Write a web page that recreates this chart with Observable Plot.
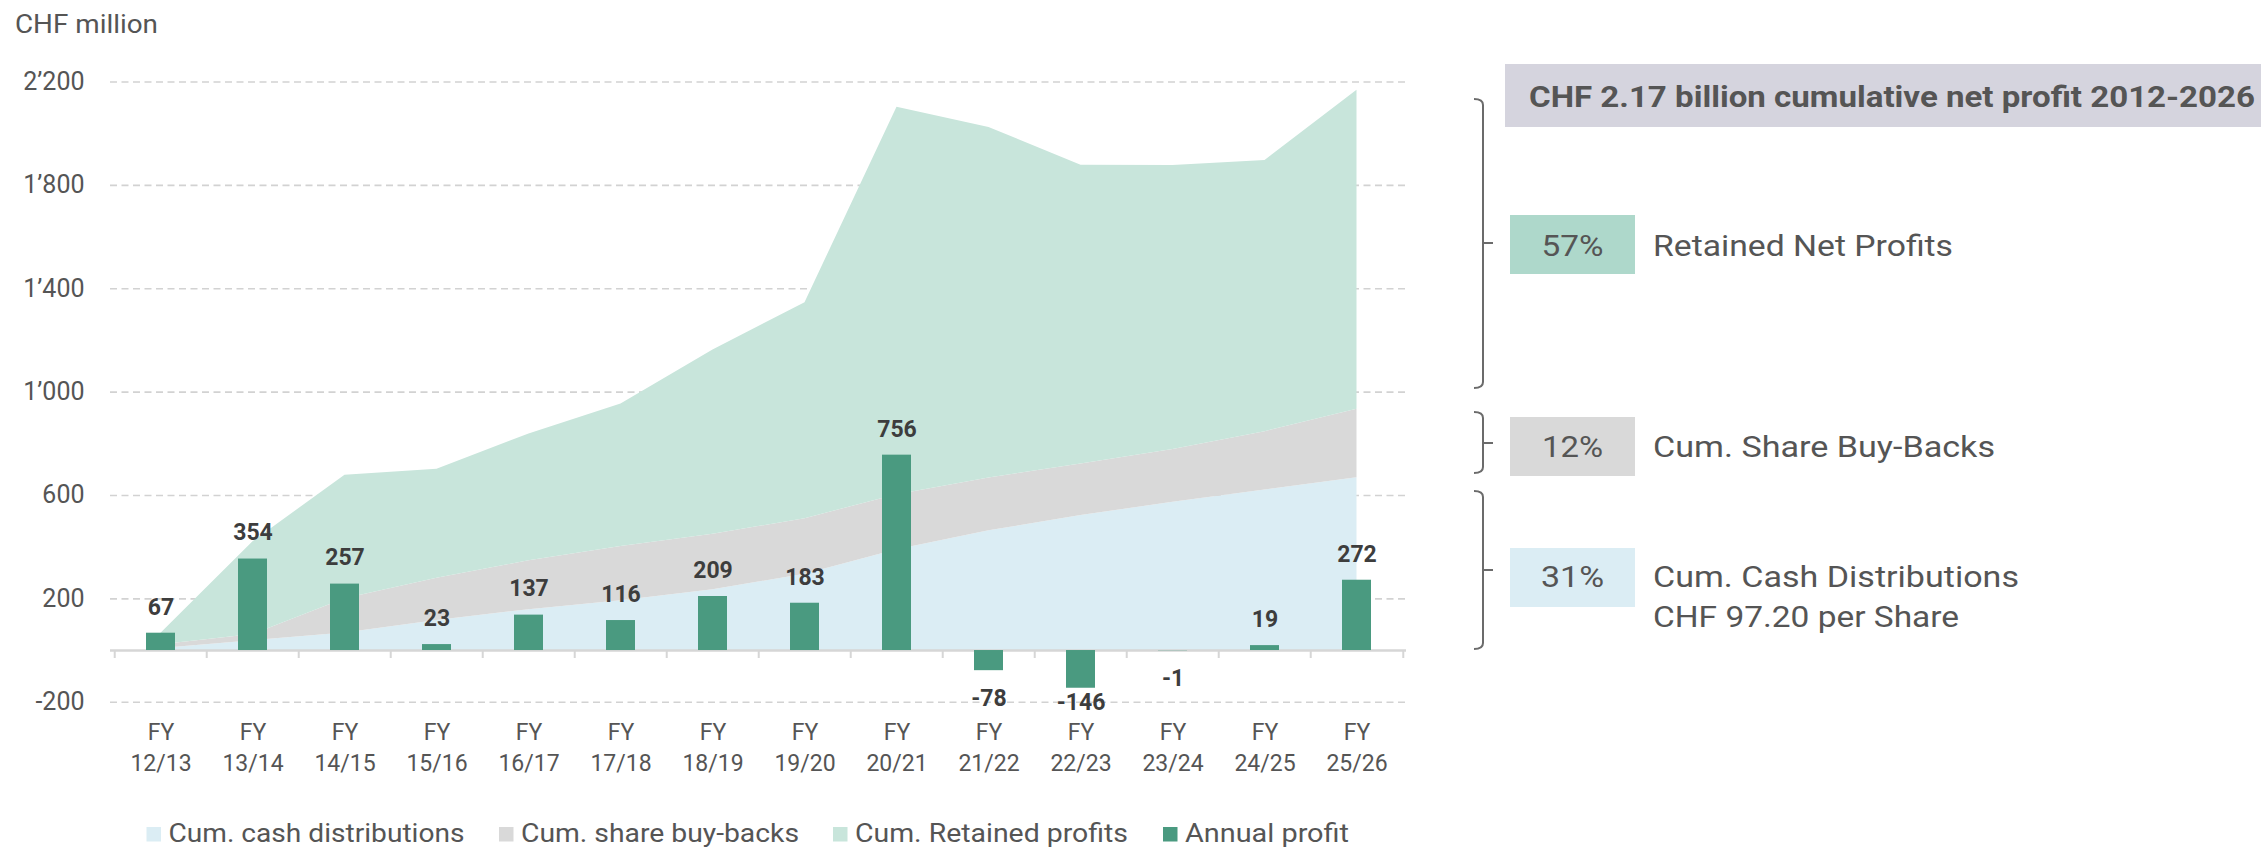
<!DOCTYPE html>
<html>
<head>
<meta charset="utf-8">
<script src="https://cdn.jsdelivr.net/npm/d3@7"></script>
<script src="https://cdn.jsdelivr.net/npm/@observablehq/plot@0.6"></script>
<style>
  html, body { margin: 0; padding: 0; background: #fff; }
  #chart { position: relative; width: 2261px; height: 847px; overflow: hidden; }
</style>
</head>
<body>
<div id="chart"></div>
<script>
// ---------- data ----------
const years = ["12/13","13/14","14/15","15/16","16/17","17/18","18/19","19/20","20/21","21/22","22/23","23/24","24/25","25/26"];
const annualProfit = [67, 354, 257, 23, 137, 116, 209, 183, 756, -78, -146, -1, 19, 272];
const cumCashDistributions = [8, 38, 68, 116, 158, 193, 235, 295, 390, 463, 522, 574, 621, 669];
const cumShareBuyBacks = [14, 24, 132, 164, 189, 210, 215, 215, 213, 205, 200, 204, 226, 265];
const yTicks = [-200, 200, 600, 1000, 1400, 1800, 2200];
const seriesNames = ["Cum. cash distributions", "Cum. share buy-backs", "Cum. Retained profits", "Annual profit"];
const seriesColors = ["#dbedf4", "#d9d9d9", "#c8e5db", "#4a9a80"];
const yLabel = "CHF million";
const headerText = "CHF 2.17 billion cumulative net profit 2012-2026";
const shareLabels = ["57%", "12%", "31%"];
const shareTexts = [["Retained Net Profits"], ["Cum. Share Buy-Backs"], ["Cum. Cash Distributions", "CHF 97.20 per Share"]];
const shareBoxColors = ["#aed8cb", "#d9d9d9", "#dbedf4"];

// ---------- derived tables ----------
const cumProfit = d3.cumsum(annualProfit);
const areaData = [];
years.forEach((y, i) => {
  const retained = cumProfit[i] - cumCashDistributions[i] - cumShareBuyBacks[i];
  areaData.push({year: y, series: seriesNames[0], value: cumCashDistributions[i]});
  areaData.push({year: y, series: seriesNames[1], value: cumShareBuyBacks[i]});
  areaData.push({year: y, series: seriesNames[2], value: retained});
});
const bars = years.map((y, i) => ({year: y, v: annualProfit[i]}));

const FONT = 'Roboto, "Liberation Sans", sans-serif';
const TXT = "#555555";
const W = 2261, H = 847;
const mL = 110, mR = 855, mT = 81.5, mB = 145.3;
const step = (W - mL - mR) / years.length;
const fmt = d => (d < 0 ? "-" : "") + d3.format(",")(Math.abs(d)).replace(/,/g, "’");

const plot = Plot.plot({
  width: W, height: H,
  marginLeft: mL, marginRight: mR, marginTop: mT, marginBottom: mB,
  style: {fontFamily: FONT, color: TXT, background: "white", overflow: "visible"},
  x: {type: "band", domain: years, paddingInner: 0.687, paddingOuter: 0.3435, align: 0.5, label: null},
  y: {domain: [-200, 2200], label: null},
  color: {domain: seriesNames.slice(0, 3), range: seriesColors.slice(0, 3)},
  marks: [
    Plot.gridY(yTicks, {stroke: "#d2d2d2", strokeOpacity: 1, strokeWidth: 1.6, strokeDasharray: "7,4.5"}),
    Plot.areaY(areaData, {x: "year", y: "value", fill: "series", order: seriesNames.slice(0, 3)}),
    Plot.ruleY([0], {stroke: "#d6d6d6", strokeWidth: 2.5}),
    Plot.ruleX(years, {x: d => d, y1: 0, y2: -31, dx: -step / 2, stroke: "#d6d6d6", strokeWidth: 2}),
    Plot.ruleX([years[years.length - 1]], {x: d => d, y1: 0, y2: -31, dx: step / 2, stroke: "#d6d6d6", strokeWidth: 2}),
    Plot.barY(bars, {x: "year", y: "v", fill: seriesColors[3]}),
    Plot.text(bars.filter(d => d.v >= 0), {x: "year", y: "v", text: d => String(d.v), dy: -26,
      fontSize: 23, fontWeight: "bold", fill: "#3d3d3d"}),
    Plot.text(bars.filter(d => d.v < 0), {x: "year", y: d => Math.max(d.v - 108, -200), text: d => String(d.v),
      fontSize: 23, fontWeight: "bold", fill: "#3d3d3d"}),
    Plot.axisY(yTicks, {tickSize: 0, tickPadding: 26, fontSize: 25, tickFormat: fmt, fill: TXT, label: null}),
    Plot.axisX({tickSize: 0, tickPadding: 16, fontSize: 23, lineHeight: 1.34, tickFormat: d => "FY\n" + d, fill: TXT, label: null})
  ]
});
document.getElementById("chart").appendChild(plot);

// ---------- annotations ----------
const svg = d3.select(plot);
const g = svg.append("g").attr("font-family", FONT).attr("fill", TXT).attr("text-anchor", "start");

g.append("text").attr("x", 15).attr("y", 33).attr("font-size", 26)
  .attr("textLength", 143).attr("lengthAdjust", "spacingAndGlyphs").text(yLabel);

// header box
g.append("rect").attr("x", 1505).attr("y", 64).attr("width", 770).attr("height", 63).attr("fill", "#d5d4de");
g.append("text").attr("x", 1529).attr("y", 106.7).attr("font-size", 30).attr("font-weight", "bold")
  .attr("textLength", 726).attr("lengthAdjust", "spacingAndGlyphs").text(headerText);

// brackets
const brackets = [[99, 243, 388], [412, 443, 473], [491, 570, 649]];
brackets.forEach(([t, m, b]) => {
  g.append("path")
    .attr("d", `M1474,${t} Q1483,${t} 1483,${t + 6} V${b - 6} Q1483,${b} 1474,${b} M1483,${m} H1493`)
    .attr("fill", "none").attr("stroke", "#6b6b6b").attr("stroke-width", 2);
});

// share boxes
const boxY = [215, 417, 548];
const pctLen = [62, 61, 63];
const textLens = [[300], [342], [366, 306]];
const baseY = [[255.5], [456.5], [586.5, 626.5]];
shareLabels.forEach((lab, i) => {
  g.append("rect").attr("x", 1510).attr("y", boxY[i]).attr("width", 125).attr("height", 59).attr("fill", shareBoxColors[i]);
  g.append("text").attr("x", 1572.5).attr("y", baseY[i][0]).attr("text-anchor", "middle").attr("font-size", 29)
    .attr("textLength", pctLen[i]).attr("lengthAdjust", "spacingAndGlyphs").text(lab);
  shareTexts[i].forEach((t, j) => {
    g.append("text").attr("x", 1653).attr("y", baseY[i][j]).attr("font-size", 29)
      .attr("textLength", textLens[i][j]).attr("lengthAdjust", "spacingAndGlyphs").text(t);
  });
});

// legend
const legX = [146.5, 499, 833, 1163];
const legLen = [296, 278, 273, 164];
seriesNames.forEach((s, i) => {
  g.append("rect").attr("x", legX[i]).attr("y", 827).attr("width", 14.5).attr("height", 14.5).attr("fill", seriesColors[i]);
  g.append("text").attr("x", legX[i] + 22).attr("y", 842).attr("font-size", 26)
    .attr("textLength", legLen[i]).attr("lengthAdjust", "spacingAndGlyphs").text(s);
});
</script>
</body>
</html>
